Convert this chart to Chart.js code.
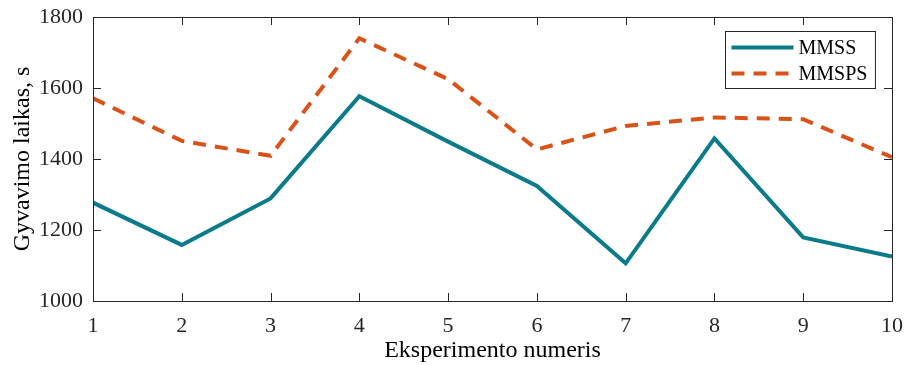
<!DOCTYPE html>
<html lang="lt">
<head>
  <meta charset="UTF-8">
  <title>Gyvavimo laikas</title>
  <script src="https://cdn.jsdelivr.net/npm/chart.js"></script>
  <style>
    html, body { margin: 0; padding: 0; background: #ffffff; }
    #wrap { width: 904px; height: 365px; position: relative; }
  </style>
</head>
<body>
  <div id="wrap"><canvas id="lifeChart"></canvas></div>

  <script>
    // duomenys
    const experiments = [1, 2, 3, 4, 5, 6, 7, 8, 9, 10];
    const mmss = [1277, 1158, 1289, 1577, 1449, 1324, 1106, 1458, 1179, 1125];
    const mmsps = [1571, 1451, 1409, 1740, 1625, 1427, 1493, 1517, 1512, 1405];
    const yTicks = [1000, 1200, 1400, 1600, 1800];
    const seriesNames = ['MMSS', 'MMSPS'];

    const axisColor = '#262626';
    const serif = "'Liberation Serif', 'Times New Roman', serif";

    // MATLAB stiliaus rėmelis su vidinėmis žymomis ir legenda
    const boxPlugin = {
      id: 'boxPlugin',
      afterDatasetsDraw(chart) {
        const ctx = chart.ctx;
        const a = chart.chartArea;
        const xs = chart.scales.x;
        const ys = chart.scales.y;
        const tick = 8;

        ctx.save();
        ctx.strokeStyle = axisColor;
        ctx.lineWidth = 1;
        ctx.strokeRect(Math.round(a.left) + 0.5, Math.round(a.top) + 0.5,
          Math.round(a.right - a.left), Math.round(a.bottom - a.top));

        ctx.beginPath();
        experiments.forEach(v => {
          const px = Math.round(xs.getPixelForValue(v)) + 0.5;
          ctx.moveTo(px, a.bottom); ctx.lineTo(px, a.bottom - tick);
          ctx.moveTo(px, a.top); ctx.lineTo(px, a.top + tick);
        });
        yTicks.forEach(v => {
          const py = Math.round(ys.getPixelForValue(v)) + 0.5;
          ctx.moveTo(a.left, py); ctx.lineTo(a.left + tick, py);
          ctx.moveTo(a.right, py); ctx.lineTo(a.right - tick, py);
        });
        ctx.stroke();

        // legenda
        ctx.font = '20px ' + serif;
        const textW = Math.max(...chart.data.datasets.map(d => ctx.measureText(d.label).width));
        const sample = 62;
        const w = 6 + sample + 5 + textW + 8;
        const h = 57;
        const bx = Math.round(a.right - 17 - w) + 0.5;
        const by = Math.round(a.top + 14) + 0.5;
        ctx.fillStyle = '#ffffff';
        ctx.fillRect(bx, by, w, h);
        ctx.strokeStyle = axisColor;
        ctx.strokeRect(bx, by, w, h);

        chart.data.datasets.forEach((d, i) => {
          const ly = by + 16 + i * 26;
          ctx.beginPath();
          ctx.strokeStyle = d.borderColor;
          ctx.lineWidth = d.borderWidth;
          ctx.setLineDash(d.borderDash || []);
          ctx.moveTo(bx + 6, ly);
          ctx.lineTo(bx + 6 + sample, ly);
          ctx.stroke();
          ctx.setLineDash([]);
          ctx.fillStyle = '#000000';
          ctx.textBaseline = 'middle';
          ctx.textAlign = 'left';
          ctx.fillText(d.label, bx + 6 + sample + 5, ly + 1);
        });
        ctx.restore();
      }
    };

    const ctx = document.getElementById('lifeChart').getContext('2d');
    new Chart(ctx, {
      type: 'line',
      data: {
        datasets: [
          {
            label: seriesNames[0],
            data: experiments.map((x, i) => ({ x: x, y: mmss[i] })),
            borderColor: '#0b7b8a',
            borderWidth: 4,
            pointRadius: 0,
            fill: false,
            tension: 0
          },
          {
            label: seriesNames[1],
            data: experiments.map((x, i) => ({ x: x, y: mmsps[i] })),
            borderColor: '#d95319',
            borderWidth: 4,
            borderDash: [13, 9],
            pointRadius: 0,
            fill: false,
            tension: 0
          }
        ]
      },
      options: {
        responsive: true,
        maintainAspectRatio: false,
        animation: false,
        layout: {
          padding: { left: 0, right: 12, top: 17, bottom: 0 }
        },
        plugins: {
          legend: { display: false },
          tooltip: { enabled: false }
        },
        scales: {
          x: {
            type: 'linear',
            min: 1,
            max: 10,
            afterFit(scale) {
              scale.height = 64;
              scale.paddingLeft = 0;
              scale.paddingRight = 0;
            },
            afterBuildTicks(scale) { scale.ticks = experiments.map(v => ({ value: v })); },
            grid: { display: false, drawTicks: false },
            border: { display: false },
            ticks: {
              color: axisColor,
              font: { family: serif, size: 22 },
              padding: 12,
              maxRotation: 0,
              callback: v => String(v)
            },
            title: {
              display: true,
              text: 'Eksperimento numeris',
              color: '#000000',
              font: { family: serif, size: 24 },
              padding: { top: 0, bottom: 0 }
            }
          },
          y: {
            min: 1000,
            max: 1800,
            afterFit(scale) {
              scale.width = 93;
              scale.paddingTop = 0;
              scale.paddingBottom = 0;
            },
            afterBuildTicks(scale) { scale.ticks = yTicks.map(v => ({ value: v })); },
            grid: { display: false, drawTicks: false },
            border: { display: false },
            ticks: {
              color: axisColor,
              font: { family: serif, size: 22 },
              padding: 10,
              callback: v => String(v)
            },
            title: {
              display: true,
              text: 'Gyvavimo laikas, s',
              color: '#000000',
              font: { family: serif, size: 24 },
              padding: { top: 8, bottom: 0 }
            }
          }
        }
      },
      plugins: [boxPlugin]
    });
  </script>
</body>
</html>
